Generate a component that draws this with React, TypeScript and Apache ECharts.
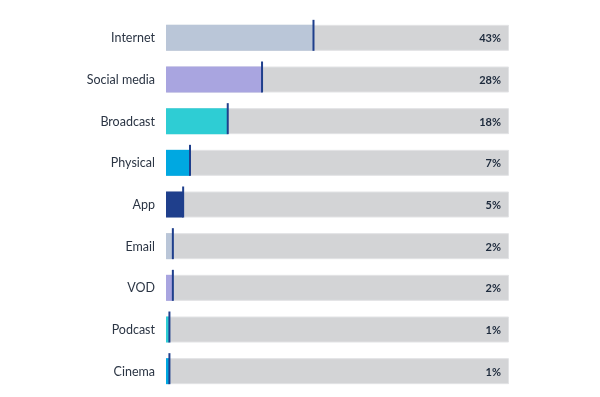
import React, { useEffect, useRef } from "react";
import * as echarts from "echarts";

const categories = ["Internet", "Social media", "Broadcast", "Physical", "App", "Email", "VOD", "Podcast", "Cinema"];
const values = [43, 28, 18, 7, 5, 2, 2, 1, 1];
const barColors = ["#bac6d8", "#a9a5e0", "#2ecdd4", "#00a8e1", "#1f3f8c", "#bac6d8", "#a9a5e0", "#2ecdd4", "#00a8e1"];
const fullScale = 100;

export default function App() {
  const ref = useRef<HTMLDivElement>(null);
  useEffect(() => {
    if (!ref.current) return;
    const chart = echarts.init(ref.current, undefined, { renderer: "svg" });
    chart.setOption({
      animation: false,
      grid: { left: 166, right: 91, top: 17, bottom: 5 },
      xAxis: { type: "value", min: 0, max: fullScale, show: false },
      yAxis: {
        type: "category",
        data: categories,
        inverse: true,
        axisLine: { show: false },
        axisTick: { show: false },
        axisLabel: { color: "#2b3544", fontSize: 12.5, fontFamily: "Lato", margin: 11 },
      },
      series: [
        {
          type: "bar",
          data: categories.map(() => fullScale),
          barWidth: 26,
          barGap: "-100%",
          itemStyle: { color: "#d3d4d6", borderColor: "#e2e3e5", borderWidth: 1 },
          label: {
            show: true,
            position: "insideRight",
            distance: 8,
            formatter: (p: any) => values[p.dataIndex] + "%",
            color: "#1d2a3c",
            fontWeight: "bold",
            fontSize: 11,
            fontFamily: "Lato",
          },
          silent: true,
          z: 1,
        },
        {
          type: "bar",
          data: values.map((v, i) => ({ value: v, itemStyle: { color: barColors[i] } })),
          barWidth: 26,
          barGap: "-100%",
          z: 2,
        },
        {
          type: "custom",
          data: values.map((v, i) => [v, i]),
          encode: { x: 0, y: 1 },
          z: 3,
          renderItem: (params: any, api: any) => {
            const p = api.coord([api.value(0), api.value(1)]);
            return {
              type: "rect",
              shape: { x: p[0] - 1, y: p[1] - 18, width: 2, height: 31 },
              style: { fill: "#1f3f8c" },
            };
          },
        },
      ],
    });
    return () => chart.dispose();
  }, []);
  return <div ref={ref} style={{ position: "fixed", left: 0, top: 0, width: 600, height: 397 }} />;
}
